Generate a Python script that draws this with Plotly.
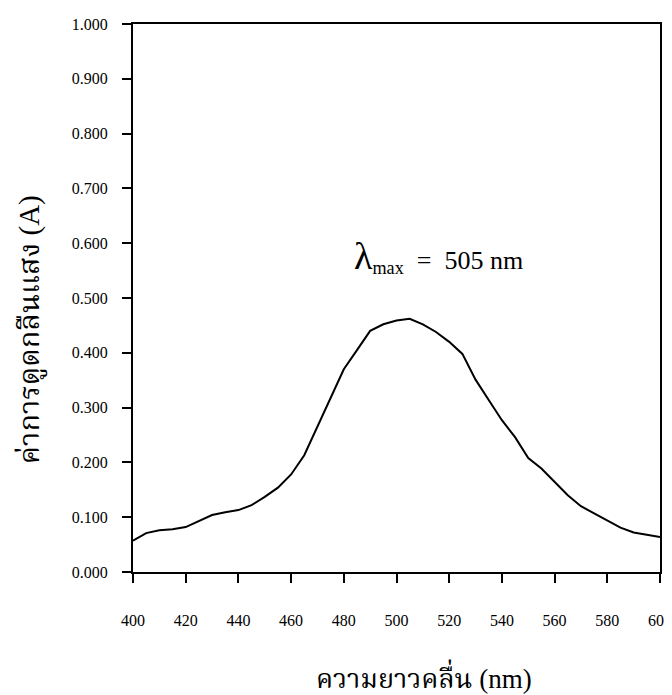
import plotly.graph_objects as go

wavelength = [400, 405, 410, 415, 420, 425, 430, 435, 440, 445, 450, 455, 460, 465, 470,
              475, 480, 485, 490, 495, 500, 505, 510, 515, 520, 525, 530, 535, 540, 545,
              550, 555, 560, 565, 570, 575, 580, 585, 590, 595, 600]
absorbance = [0.057, 0.071, 0.076, 0.078, 0.082, 0.093, 0.104, 0.109, 0.113, 0.122, 0.137,
              0.154, 0.178, 0.213, 0.266, 0.318, 0.370, 0.405, 0.440, 0.452, 0.459, 0.462,
              0.452, 0.438, 0.420, 0.398, 0.351, 0.314, 0.277, 0.246, 0.208, 0.189, 0.164,
              0.140, 0.120, 0.107, 0.093, 0.081, 0.072, 0.068, 0.064]
x_ticks = [400, 420, 440, 460, 480, 500, 520, 540, 560, 580, 600]
y_ticks = [0.0, 0.1, 0.2, 0.3, 0.4, 0.5, 0.6, 0.7, 0.8, 0.9, 1.0]
y_tick_text = ["0.000", "0.100", "0.200", "0.300", "0.400", "0.500",
               "0.600", "0.700", "0.800", "0.900", "1.000"]

SERIF = "Liberation Serif, Noto Serif Thai, Noto Sans Thai, Times New Roman, serif"

fig = go.Figure()
fig.add_trace(go.Scatter(x=wavelength, y=absorbance, mode="lines",
                         line=dict(color="black", width=2), showlegend=False))

axis_common = dict(showline=True, linecolor="black", linewidth=2, mirror=True,
                   ticks="outside", ticklen=9, tickwidth=2, tickcolor="black",
                   showgrid=False, zeroline=False, automargin=False,
                   tickfont=dict(family=SERIF, size=16, color="black"))

fig.update_xaxes(range=[400, 600], tickvals=x_ticks, ticklabelstandoff=24, **axis_common)
fig.update_yaxes(range=[0, 1.0], tickvals=y_ticks, ticktext=y_tick_text,
                 ticklabelstandoff=11, **axis_common)

fig.add_annotation(x=516.0, y=0.575, xref="x", yref="y", showarrow=False,
                   xanchor="center", yanchor="middle",
                   text='<span style="font-size:38px">λ</span><sub>max</sub>  =  505 nm',
                   font=dict(family=SERIF, size=26, color="black"))
fig.add_annotation(x=-0.195, y=0.4416, xref="paper", yref="paper", showarrow=False,
                   xanchor="center", yanchor="middle",
                   textangle=-90, text="ค่าการดูดกลืนแสง (A)",
                   font=dict(family=SERIF, size=29, color="black"))
fig.add_annotation(x=0.552, y=-0.19, xref="paper", yref="paper", showarrow=False,
                   xanchor="center", yanchor="middle",
                   text="ความยาวคลื่น (nm)",
                   font=dict(family=SERIF, size=27, color="black"))

# page body has an 8px default margin; size figure so the plot lands where the reference's does
fig.update_layout(width=664, height=687, paper_bgcolor="white", plot_bgcolor="white",
                  margin=dict(l=125, r=12, t=16, b=123))
fig.write_html("out.html")
